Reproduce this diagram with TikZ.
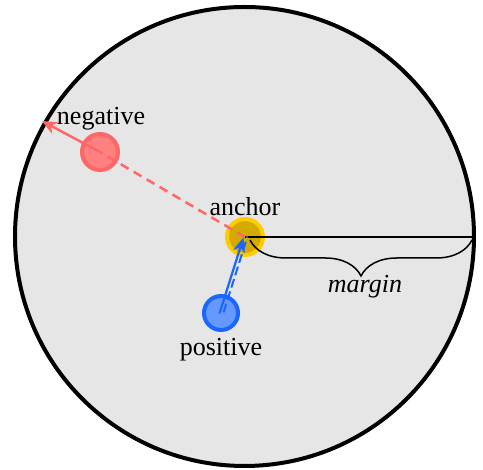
\documentclass[tikz,border=0pt]{standalone}
\usepackage{fontspec}
\setmainfont{Liberation Serif}
\usetikzlibrary{arrows.meta,decorations.pathreplacing}
\definecolor{bg}{HTML}{E6E6E6}
\definecolor{ancfill}{HTML}{D4AA00}
\definecolor{ancdraw}{HTML}{FFCC00}
\definecolor{negfill}{HTML}{FF8080}
\definecolor{negdraw}{HTML}{FF6666}
\definecolor{posfill}{HTML}{6699FF}
\definecolor{posdraw}{HTML}{1A66FF}
\tikzset{
  lbl/.style={font=\fontsize{26}{31}\selectfont, inner sep=0pt},
  dot/.style={circle, line width=4pt, minimum size=36pt, inner sep=0pt},
}
\begin{document}
\begin{tikzpicture}[x=1pt,y=1pt]
\useasboundingbox (0,0) rectangle (483,470);
\node[circle, draw=black, fill=bg, line width=4pt, minimum size=459pt, inner sep=0pt] (big) at (244.5,233.5) {};
\node[dot, draw=negdraw, fill=negfill] (neg) at (100,318) {};
\node[dot, draw=posdraw, fill=posfill, minimum size=34pt] (pos) at (221,157) {};
\node[dot, draw=ancdraw, fill=ancfill] (anc) at (245,233) {};
\coordinate (edge) at (42,349);
\coordinate (right) at (476,233);
% margin line and brace
\draw[line width=2pt] (anc.center) -- (right);
\draw[line width=1.5pt, decorate, decoration={brace, mirror, amplitude=36pt}] (250,230) -- (472,230);
\node[lbl, font=\fontsize{26}{31}\selectfont\itshape] (mlab) at (365,183) {margin};
% negative arrow
\draw[negdraw, line width=2.5pt, dash pattern=on 9pt off 6pt] (anc.center) -- (neg.center);
\draw[negdraw, line width=2.5pt, -{Stealth[length=15pt,width=13pt]}] (neg.center) -- (edge);
% positive arrow
\draw[posdraw, line width=2pt, dash pattern=on 9pt off 4pt, transform canvas={xshift=2.5pt,yshift=0.6pt}] (pos.center) -- (anc.center);
\draw[posdraw, line width=2.2pt, -{Stealth[length=15pt,width=12pt]}, transform canvas={xshift=-1.5pt,yshift=-0.4pt}] (pos.center) -- (anc.center);
% labels
\node[lbl] (nlab) at (101,351) {negative};
\node[lbl] (alab) at (245,263) {anchor};
\node[lbl] (plab) at (221,120) {positive};
\end{tikzpicture}
\end{document}
